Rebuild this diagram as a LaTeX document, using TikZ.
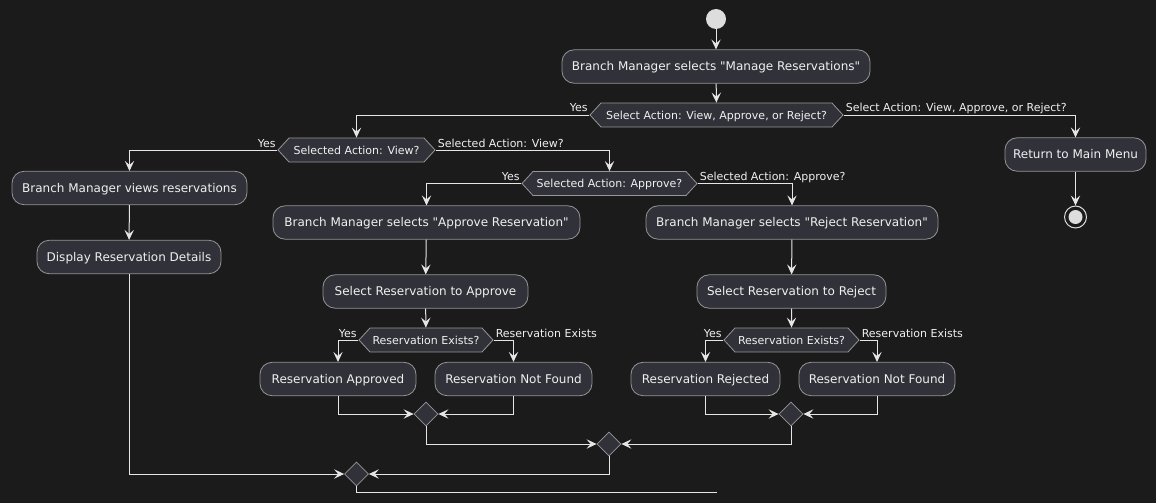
\documentclass[tikz,border=0pt]{standalone}
\usepackage{fontspec}
\setmainfont{DejaVu Sans}
\usetikzlibrary{arrows.meta,shapes.symbols,shapes.geometric}
\definecolor{bg}{RGB}{27,27,27}
\definecolor{nodefill}{RGB}{49,49,57}
\definecolor{nodeborder}{RGB}{150,150,150}
\definecolor{linec}{RGB}{230,230,230}
\definecolor{txt}{RGB}{240,240,240}
\definecolor{startc}{RGB}{221,221,221}
\newcommand{\dq}{\XeTeXglyph\XeTeXglyphindex "quotedbl"\relax}
\begin{document}
\begin{tikzpicture}[x=0.75pt,y=-0.75pt,
  act/.style={rectangle, rounded corners=9pt, draw=nodeborder, line width=0.6pt, fill=nodefill,
    text=txt, font=\fontsize{9}{11}\selectfont, inner sep=0pt, minimum height=25pt,
    text height=6.6pt, text depth=0pt},
  hex/.style={signal, signal to=west and east, signal pointer angle=95, draw=nodeborder, line width=0.6pt,
    fill=nodefill, text=txt, font=\fontsize{8.25}{10}\selectfont, inner sep=0pt, minimum height=18pt,
    text height=6pt, text depth=0pt},
  merge/.style={diamond, draw=nodeborder, line width=0.6pt, fill=nodefill, inner sep=0pt,
    minimum width=18pt, minimum height=18pt},
  lbl/.style={text=txt, font=\fontsize{8.25}{10}\selectfont, inner sep=0pt},
  conn/.style={draw=linec, line width=0.75pt},
  arr/.style={conn, -{Stealth[length=7.5pt,width=7pt,inset=3pt]}},
]
\fill[bg] (0,0) rectangle (1156,503);

% nodes
\node[circle, fill=startc, minimum size=15pt, inner sep=0pt] (start) at (716,19) {};
\node[act, minimum width=308*0.75pt] (a1) at (716,66.5) {Branch Manager selects \dq Manage Reservations\dq};
\node[hex, minimum width=253*0.75pt] (d1) at (716.5,115) {Select Action: View, Approve, or Reject?};
\node[act, minimum width=141*0.75pt] (ret) at (1075.5,154.5) {Return to Main Menu};
\node[circle, draw=startc, line width=0.75pt, fill=bg, minimum size=16.5pt, inner sep=0pt] (stop) at (1075.5,217) {};
\node[circle, fill=startc, minimum size=10.5pt, inner sep=0pt] (stopin) at (stop.center) {};

\node[hex, minimum width=157*0.75pt] (d2) at (356.5,150) {Selected Action: View?};
\node[act, minimum width=235*0.75pt] (b1) at (129.5,188) {Branch Manager views reservations};
\node[act, minimum width=184*0.75pt] (b2) at (129,257) {Display Reservation Details};

\node[hex, minimum width=175*0.75pt] (d3) at (609.5,183.5) {Selected Action: Approve?};
\node[act, minimum width=307*0.75pt] (c1) at (426.5,222.5) {Branch Manager selects \dq Approve Reservation\dq};
\node[act, minimum width=205*0.75pt] (c2) at (425.5,291.5) {Select Reservation to Approve};
\node[hex, minimum width=134*0.75pt] (d4) at (426,340) {Reservation Exists?};
\node[act, minimum width=156*0.75pt] (c3) at (338,379) {Reservation Approved};
\node[act, minimum width=157*0.75pt] (c4) at (513.5,379) {Reservation Not Found};
\node[merge] (m1) at (426,414) {};

\node[act, minimum width=292*0.75pt] (e1) at (792,222.5) {Branch Manager selects \dq Reject Reservation\dq};
\node[act, minimum width=189*0.75pt] (e2) at (791.5,291.5) {Select Reservation to Reject};
\node[hex, minimum width=135*0.75pt] (d5) at (791.5,340) {Reservation Exists?};
\node[act, minimum width=149*0.75pt] (e3) at (705.5,379) {Reservation Rejected};
\node[act, minimum width=156*0.75pt] (e4) at (877,379) {Reservation Not Found};
\node[merge] (m1b) at (791,414) {};

\node[merge] (m2) at (609,444) {};
\node[merge] (m3) at (356.5,474) {};
\coordinate (fin) at (717,492);

% labels
\node[lbl, anchor=base east] (l1y) at ([xshift=-1.5*0.75pt, yshift=3*0.75pt]d1.west) {Yes};
\node[lbl, anchor=base west] (l1n) at ([xshift=2*0.75pt, yshift=3*0.75pt]d1.east) {Select Action: View, Approve, or Reject?};
\node[lbl, anchor=base east] (l2y) at ([xshift=-1.5*0.75pt, yshift=3*0.75pt]d2.west) {Yes};
\node[lbl, anchor=base west] (l2n) at ([xshift=2*0.75pt, yshift=3*0.75pt]d2.east) {Selected Action: View?};
\node[lbl, anchor=base east] (l3y) at ([xshift=-1.5*0.75pt, yshift=3*0.75pt]d3.west) {Yes};
\node[lbl, anchor=base west] (l3n) at ([xshift=2*0.75pt, yshift=3*0.75pt]d3.east) {Selected Action: Approve?};
\node[lbl, anchor=base east] (l4y) at ([xshift=-1.5*0.75pt, yshift=3*0.75pt]d4.west) {Yes};
\node[lbl, anchor=base west] (l4n) at ([xshift=2*0.75pt, yshift=3*0.75pt]d4.east) {Reservation Exists};
\node[lbl, anchor=base east] (l5y) at ([xshift=-1.5*0.75pt, yshift=3*0.75pt]d5.west) {Yes};
\node[lbl, anchor=base west] (l5n) at ([xshift=2*0.75pt, yshift=3*0.75pt]d5.east) {Reservation Exists};

% connectors
\draw[arr] (start) -- (a1);
\draw[arr] (a1) -- (d1);
\draw[arr] (d1.west) -| (d2.north);
\draw[arr] (d1.east) -| (ret.north);
\draw[arr] (ret) -- (stop);

\draw[arr] (d2.west) -| (b1.north);
\draw[arr] (b1) -- (b2);
\draw[arr] (b2.south) |- (m3.west);
\draw[arr] (d2.east) -| (d3.north);

\draw[arr] (d3.west) -| (c1.north);
\draw[arr] (c1) -- (c2);
\draw[arr] (c2) -- (d4);
\draw[arr] (d4.west) -| (c3.north);
\draw[arr] (d4.east) -| (c4.north);
\draw[arr] (c3.south) |- (m1.west);
\draw[arr] (c4.south) |- (m1.east);
\draw[arr] (m1.south) |- (m2.west);

\draw[arr] (d3.east) -| (e1.north);
\draw[arr] (e1) -- (e2);
\draw[arr] (e2) -- (d5);
\draw[arr] (d5.west) -| (e3.north);
\draw[arr] (d5.east) -| (e4.north);
\draw[arr] (e3.south) |- (m1b.west);
\draw[arr] (e4.south) |- (m1b.east);
\draw[arr] (m1b.south) |- (m2.east);

\draw[arr] (m2.south) |- (m3.east);
\draw[conn] (m3.south) |- (fin);
\end{tikzpicture}
\end{document}
